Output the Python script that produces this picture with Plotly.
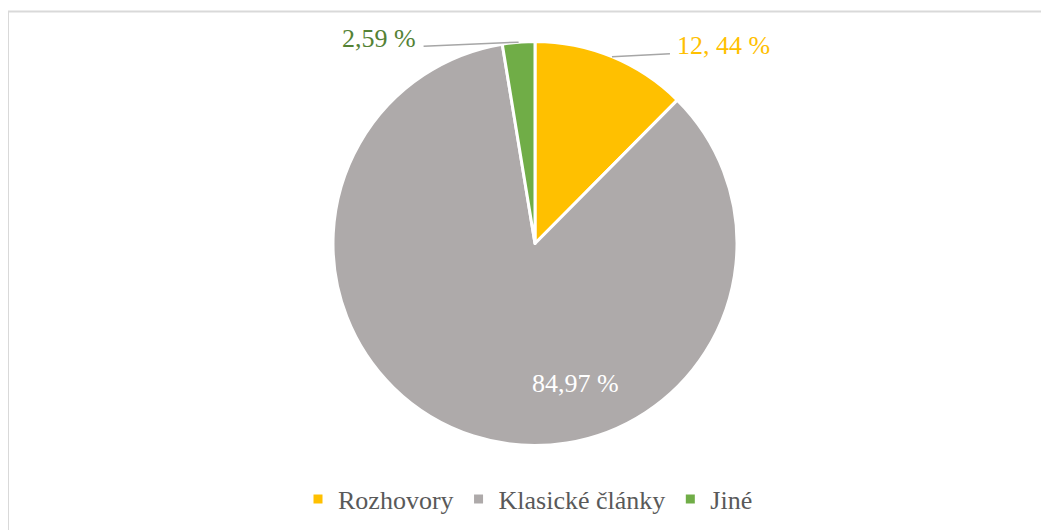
import math
import plotly.graph_objects as go

# ---- data ----
categories = ["Rozhovory", "Klasické články", "Jiné"]
values = [12.44, 84.97, 2.59]
value_labels = ["12, 44 %", "84,97 %", "2,59 %"]
colors = ["#FFC000", "#AEAAAA", "#70AD47"]
label_colors = ["#FFC000", "#FFFFFF", "#548235"]

W, H = 1049, 530
OFF = 8  # page body margin
FONT = "Liberation Serif, Times New Roman, serif"

# pie geometry (screen pixels)
cx, cy, R = 535, 243.5, 202

def px(x, y):
    return (x - OFF) / W, 1 - (y - OFF) / H

x_lo, y_lo = px(cx - R, cy + R)
x_hi, y_hi = px(cx + R, cy - R)

fig = go.Figure()
fig.add_trace(go.Pie(
    labels=categories,
    values=values,
    sort=False,
    direction="clockwise",
    rotation=0,
    marker=dict(colors=colors, line=dict(color="#FFFFFF", width=3)),
    textinfo="none",
    hoverinfo="label+percent",
    domain=dict(x=[x_lo, x_hi], y=[y_lo, y_hi]),
))

total = sum(values)
def edge_point(i):
    start = sum(values[:i]) / total * 360
    mid = start + values[i] / total * 360 / 2
    a = math.radians(mid)
    return cx + R * math.sin(a), cy - R * math.cos(a)

fx0, fy0 = px(7.5, 11.5)
fx1, _ = px(1049 + OFF, 11.5)
_, fyb = px(8, 530 + OFF)
lx, _ = px(8, 0)
shapes = [
    dict(type="line", xref="paper", yref="paper",
         x0=fx0, x1=fx1, y0=fy0, y1=fy0, line=dict(color="#D9D9D9", width=2)),
    dict(type="line", xref="paper", yref="paper",
         x0=lx, x1=lx, y0=fyb, y1=fy0, line=dict(color="#D9D9D9", width=2)),
]
annotations = []

def leader(i, dx, dy, tdx, tdy, anchor):
    hx, hy = edge_point(i)
    ex, ey = hx + dx, hy + dy
    x0, y0 = px(hx, hy); x1, y1 = px(ex, ey)
    shapes.append(dict(type="line", xref="paper", yref="paper", x0=x0, y0=y0, x1=x1, y1=y1,
                       line=dict(color="#A6A6A6", width=1.5)))
    tx, ty = px(ex + tdx, ey + tdy)
    annotations.append(dict(x=tx, y=ty, xref="paper", yref="paper", text=value_labels[i],
                            showarrow=False, xanchor=anchor, yanchor="middle",
                            font=dict(family=FONT, size=26, color=label_colors[i])))

leader(0, 58, -3, 5, -8, "left")
leader(2, -95, 4, -6, -8, "right")

tx, ty = px(575, 383)
annotations.append(dict(x=tx, y=ty, xref="paper", yref="paper", text=value_labels[1],
                        showarrow=False, xanchor="center", yanchor="middle",
                        font=dict(family=FONT, size=26, color=label_colors[1])))

lgx, lgy = px(528, 499)
fig.update_layout(
    width=W, height=H,
    margin=dict(l=0, r=0, t=0, b=0),
    paper_bgcolor="#FFFFFF",
    plot_bgcolor="#FFFFFF",
    showlegend=True,
    legend=dict(orientation="h", x=lgx, xanchor="center", y=lgy, yanchor="middle",
                font=dict(family=FONT, size=26, color="#595959"),
                itemwidth=30, traceorder="normal"),
    shapes=shapes,
    annotations=annotations,
)

fig.write_html("out.html")
